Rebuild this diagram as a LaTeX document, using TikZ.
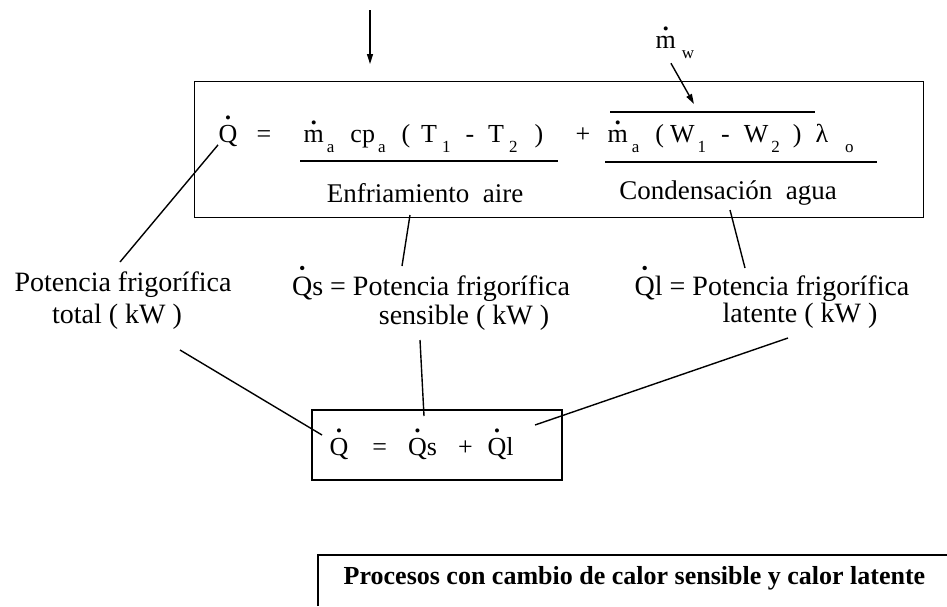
\documentclass[tikz,border=0pt]{standalone}
\usepackage{fontspec}
\setmainfont{Liberation Serif}
\usetikzlibrary{arrows.meta,calc}
\newcommand\dt[1]{\leavevmode\setbox0\hbox{#1}\rlap{\hbox to\wd0{\hss\raisebox{\dimexpr\ht0+0.06em\relax}{\scalebox{0.65}{\textbullet}}\hss}}#1}
\newcommand\lw[1]{\raisebox{-0.4em}{\fontsize{17}{17}\selectfont #1}}
\newcommand\hs[1]{\hspace*{#1pt}}
\begin{document}
\begin{tikzpicture}[x=1pt,y=-1pt,line width=1.4pt,
  eq/.style={font=\fontsize{26}{28}\selectfont,inner sep=0pt},
  wd/.style={font=\fontsize{27}{30}\selectfont,inner sep=0pt},
  lab/.style={font=\fontsize{28}{30}\selectfont,inner sep=0pt},
  arr/.style={-{Triangle[length=10pt,width=6pt]}}]
\useasboundingbox (0,0) rectangle (947,606);
% top box
\node[draw,minimum width=729,minimum height=136,anchor=north west,inner sep=0pt] (box) at (194,81) {};
\coordinate (ain) at (370,10);
\coordinate (aend) at (370,64);
\draw[arr] (ain) -- (aend);
\node[eq,anchor=base west] (mw) at (655,48) {\dt{m}\hs{6}\lw{w}};
\coordinate (mwend) at (694,104);
\draw[arr] ([xshift=-4pt,yshift=-4pt]mw.south) -- (mwend);
% equation
\node[eq,anchor=base] (qd) at (228,142) {\dt{Q}};
\node[eq,anchor=base] (eq1) at (264,142) {=};
\node[eq,anchor=base west] (t1) at (303,142) {\dt{m}\hs{3}\lw{a}\hs{16}cp\hs{3}\lw{a}\hs{16}(\hs{11}T\hs{5}\lw{1}\hs{15}-\hs{14}T\hs{5}\lw{2}\hs{17})};
\node[eq,anchor=base] (pl) at (583,142) {+};
\node[eq,anchor=base west] (t2) at (607,142) {\dt{m}\hs{4}\lw{a}\hs{16}(\hs{6}W\hs{3}\lw{1}\hs{15}-\hs{14}W\hs{3}\lw{2}\hs{13})\hs{14}λ\hs{17}\lw{o}};
\draw (300,161) -- (558,161);
\draw (605,162) -- (877,162);
\draw (610,112) -- (815,112);
\node[wd] (en) at (425,193) {Enfriamiento\ \ aire};
\node[wd] (co) at (728,193) {Condensación\ \ agua};
% labels
\node[lab] (lt1) at (123,285) {Potencia frigorífica};
\node[lab] (lt2) at (117,317) {total ( kW )};
\node[lab] (ls1) at (431,284) {\dt{Q}s = Potencia frigorífica};
\node[lab] (ls2) at (464,318) {sensible ( kW )};
\node[lab] (ll1) at (772,284) {\dt{Q}l = Potencia frigorífica};
\node[lab] (ll2) at (800,316) {latente ( kW )};
% lower box
\node[draw,minimum width=250,minimum height=70,inner sep=0pt] (qb) at (437,445) {};
\node[eq,anchor=base west] (qbt) at (329,455) {\dt{Q}\hs{24}=\hs{21}\dt{Q}s\hs{21}+\hs{15}\dt{Q}l};
% connectors
\coordinate (c1) at (120,262);
\draw ([xshift=-10pt,yshift=2pt]qd.south) -- (c1);
\coordinate (c2a) at (410,215);
\coordinate (c2b) at (402,266);
\draw (c2a) -- (c2b);
\coordinate (c3a) at (730,210);
\coordinate (c3b) at (745,268);
\draw (c3a) -- (c3b);
\coordinate (d1a) at (180,350);
\coordinate (d1b) at (322,435);
\draw (d1a) -- (d1b);
\coordinate (d2a) at (420,340);
\coordinate (d2b) at (424,416);
\draw (d2a) -- (d2b);
\coordinate (d3a) at (788,338);
\coordinate (d3b) at (535,425);
\draw (d3a) -- (d3b);
% bottom box
\node[anchor=west,font=\fontsize{26}{28}\selectfont\bfseries,inner sep=0pt] (proc) at (343,578) {Procesos con cambio de calor sensible y calor latente};
\draw (318,606) -- (318,555) -- (947,555);
\end{tikzpicture}
\end{document}
